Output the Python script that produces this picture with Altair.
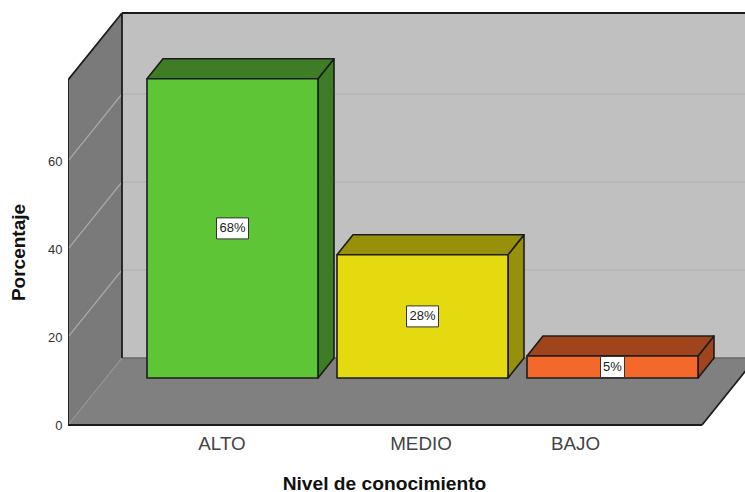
import altair as alt
import pandas as pd

# Survey results
categories = ["ALTO", "MEDIO", "BAJO"]
percentages = [68, 28, 5]
value_labels = ["68%", "28%", "5%"]
front_colors = ["#5EC537", "#E5D90F", "#F5682B"]
shade_colors = ["#3E7D25", "#97900A", "#A0451B"]
y_ticks = [0, 20, 40, 60]
grid_levels = [20, 40, 60]

# Projection of the oblique 3D room, in pixels
W, H = 677, 492
UNIT = 4.4                # pixels per percentage point
BASE_PX = 425             # vertical pixel of value 0 on the front edge
ROOM_DX, ROOM_DY = 54, 67 / UNIT      # depth of the room
ROOM_TOP = 345 / UNIT     # height of the walls
FLOOR_W = 634             # front edge of the floor
BAR_X0, BAR_W, BAR_STEP = 79, 171, 190
BAR_LIFT = 47 / UNIT      # bars stand part way back on the floor
BAR_DX, BAR_DY = 16, 20 / UNIT
LABEL_XS = [153.5, 352.5, 507]
BOX_H = 21 / UNIT

x_scale = alt.Scale(domain=[0, W], nice=False, zero=False)
y_scale = alt.Scale(domain=[(BASE_PX - H) / UNIT, BASE_PX / UNIT], nice=False, zero=False)

label_expr = "{" + ",".join(f"'{p}':'{c}'" for p, c in zip(LABEL_XS, categories)) + "}[''+datum.value]"
x_axis = alt.Axis(
    values=LABEL_XS, labelExpr=label_expr, offset=-(H - BASE_PX), domain=False, ticks=False,
    grid=False, labelFont="Liberation Sans", labelFontSize=18.8, labelColor="#444444",
    labelPadding=9, labelOverlap=False, labelFlush=False,
    title="Nivel de conocimiento", titleFont="Liberation Sans", titleFontSize=19.2,
    titleFontWeight="bold", titleColor="#111111", titleAnchor="start", titleAlign="center",
    titleX=316, titleY=64, titleBaseline="alphabetic",
)
y_axis = alt.Axis(
    values=y_ticks, domain=False, ticks=False, grid=False, format="d",
    labelFont="Liberation Sans", labelFontSize=13, labelColor="#333333", labelPadding=6,
    title="Porcentaje", titleFont="Liberation Sans", titleFontSize=19,
    titleFontWeight="bold", titleColor="#111111", titleAnchor="start", titleAlign="center",
    titleX=-44, titleY=252, titleBaseline="alphabetic",
)


def pos_x(field):
    return alt.X(field, scale=x_scale, axis=x_axis)


def pos_y(field, **kw):
    return alt.Y(field, scale=y_scale, axis=y_axis, **kw)


def area_layer(rows, **mark):
    return alt.Chart(pd.DataFrame(rows)).mark_area(orient="vertical", clip=True, **mark).encode(
        x=pos_x("x:Q"),
        y=pos_y("y:Q", stack=None),
        y2="y2:Q",
        fill=alt.Fill("color:N", scale=None),
        detail="face:N",
    )


def rule_layer(rows, color, width):
    return alt.Chart(pd.DataFrame(rows)).mark_rule(color=color, strokeWidth=width, clip=True).encode(
        x=pos_x("x:Q"),
        x2="x2:Q",
        y=pos_y("y:Q"),
        y2="y2:Q",
    )


# Room surfaces
side_wall = [
    {"face": "side", "color": "#7A7A7A", "x": 0, "y": 0, "y2": ROOM_TOP},
    {"face": "side", "color": "#7A7A7A", "x": ROOM_DX, "y": ROOM_DY, "y2": ROOM_TOP + ROOM_DY},
]
back_wall = [
    {"face": "back", "color": "#C0C0C0", "x": ROOM_DX, "y": ROOM_DY, "y2": ROOM_TOP + ROOM_DY},
    {"face": "back", "color": "#C0C0C0", "x": W, "y": ROOM_DY, "y2": ROOM_TOP + ROOM_DY},
]
floor = [
    {"face": "floor", "color": "#808080", "x": 0, "y": 0, "y2": 0},
    {"face": "floor", "color": "#808080", "x": ROOM_DX, "y": 0, "y2": ROOM_DY},
    {"face": "floor", "color": "#808080", "x": FLOOR_W, "y": 0, "y2": ROOM_DY},
    {"face": "floor", "color": "#808080", "x": FLOOR_W + ROOM_DX, "y": ROOM_DY, "y2": ROOM_DY},
]

# Gridlines on both walls
back_grid = [{"x": ROOM_DX, "x2": W, "y": v + ROOM_DY, "y2": v + ROOM_DY} for v in grid_levels]
side_grid = [{"x": 0, "x2": ROOM_DX, "y": v, "y2": v + ROOM_DY} for v in grid_levels]
# The floor's left edge is fainter than the wall gridlines
floor_edge = [{"x": 0, "x2": ROOM_DX, "y": 0, "y2": ROOM_DY}]

# Room outline
room_edges = [
    {"x": 0, "x2": 0, "y": 0, "y2": ROOM_TOP},
    {"x": 0, "x2": ROOM_DX, "y": ROOM_TOP, "y2": ROOM_TOP + ROOM_DY},
    {"x": ROOM_DX, "x2": ROOM_DX, "y": ROOM_DY, "y2": ROOM_TOP + ROOM_DY},
    {"x": ROOM_DX, "x2": W, "y": ROOM_TOP + ROOM_DY, "y2": ROOM_TOP + ROOM_DY},
    {"x": 0, "x2": FLOOR_W, "y": 0, "y2": 0},
    {"x": FLOOR_W, "x2": FLOOR_W + ROOM_DX, "y": 0, "y2": ROOM_DY},
]
floor_back = [{"x": ROOM_DX, "x2": W, "y": ROOM_DY, "y2": ROOM_DY}]

# Bar faces
fronts, tops, sides, boxes = [], [], [], []
for i, (name, value) in enumerate(zip(categories, percentages)):
    x0 = BAR_X0 + i * BAR_STEP
    x1 = x0 + BAR_W
    low, high = BAR_LIFT, BAR_LIFT + value
    fronts.append({"x": x0, "x2": x1, "y": low, "y2": high, "color": front_colors[i]})
    shade = shade_colors[i]
    tops += [
        {"face": name, "color": shade, "x": x0, "y": high, "y2": high},
        {"face": name, "color": shade, "x": x0 + BAR_DX, "y": high, "y2": high + BAR_DY},
        {"face": name, "color": shade, "x": x1, "y": high, "y2": high + BAR_DY},
        {"face": name, "color": shade, "x": x1 + BAR_DX, "y": high + BAR_DY, "y2": high + BAR_DY},
    ]
    sides += [
        {"face": name, "color": shade, "x": x1, "y": low, "y2": high},
        {"face": name, "color": shade, "x": x1 + BAR_DX, "y": low + BAR_DY, "y2": high + BAR_DY},
    ]
    half = 16 if len(value_labels[i]) > 2 else 12
    mid = (low + high) / 2
    cx = (x0 + x1) / 2
    boxes.append({
        "x": cx - half, "x2": cx + half, "y": mid - BOX_H / 2, "y2": mid + BOX_H / 2,
        "cx": cx, "mid": mid, "label": value_labels[i],
    })

OUTLINE = "#1C1C1C"
STROKE = dict(stroke=OUTLINE, strokeWidth=1.6, strokeJoin="round")

front_layer = alt.Chart(pd.DataFrame(fronts)).mark_rect(**STROKE).encode(
    x=pos_x("x:Q"),
    x2="x2:Q",
    y=pos_y("y:Q"),
    y2="y2:Q",
    fill=alt.Fill("color:N", scale=None),
)
box_layer = alt.Chart(pd.DataFrame(boxes)).mark_rect(fill="white", stroke="#333333", strokeWidth=1).encode(
    x=pos_x("x:Q"),
    x2="x2:Q",
    y=pos_y("y:Q"),
    y2="y2:Q",
)
label_layer = alt.Chart(pd.DataFrame(boxes)).mark_text(
    font="Liberation Sans", fontSize=13, color="#222222", baseline="middle", align="center"
).encode(
    x=pos_x("cx:Q"),
    y=pos_y("mid:Q"),
    text="label:N",
)

chart = alt.layer(
    area_layer(back_wall),
    area_layer(side_wall),
    area_layer(floor),
    rule_layer(back_grid, "#B0B0B0", 1.2),
    rule_layer(side_grid, "#A8A8A8", 1.2),
    rule_layer(floor_edge, "#9A9A9A", 1),
    rule_layer(floor_back, "#686868", 1.5),
    rule_layer(room_edges, OUTLINE, 1.8),
    area_layer(sides, **STROKE),
    area_layer(tops, **STROKE),
    front_layer,
    box_layer,
    label_layer,
).properties(
    width=W,
    height=H,
    background="white",
    padding={"left": 68, "top": 0, "right": 0, "bottom": 0},
    autosize=alt.AutoSizeParams(type="none"),
).configure_view(stroke=None)

chart.save("out.html", embed_options={"renderer": "svg", "actions": False})
